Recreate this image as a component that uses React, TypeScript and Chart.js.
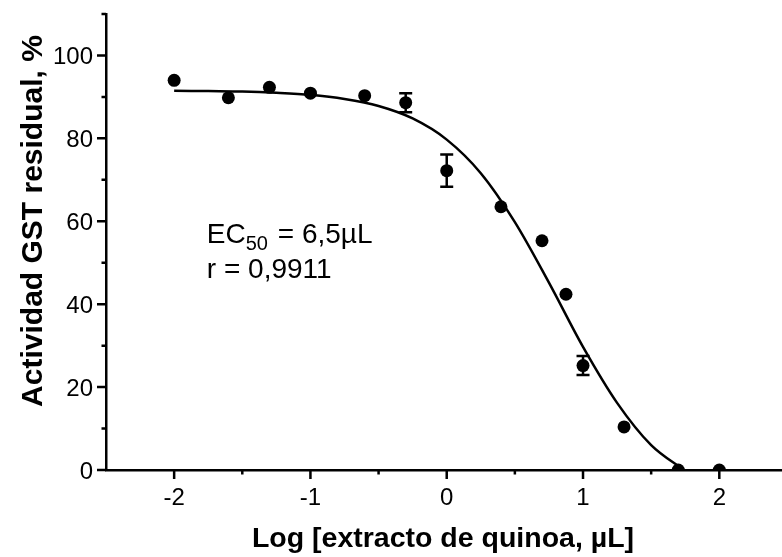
import React, { useEffect, useRef } from 'react';
import { Chart, registerables } from 'chart.js';

Chart.register(...registerables);

// Measured data (log dose vs residual activity)
const logDose = [-2, -1.602, -1.301, -1, -0.602, -0.301, 0, 0.398, 0.699, 0.875, 1, 1.301, 1.699, 2];
const activity = [94.0, 89.8, 92.3, 90.9, 90.3, 88.6, 72.2, 63.5, 55.3, 42.4, 25.2, 10.4, 0, 0];
const activityErr = [0, 0, 0, 0, 0, 2.3, 3.9, 0, 0, 0, 2.3, 0, 0, 0];

// Fitted curve
const fitX = [-2, -1.75, -1.5, -1.25, -1, -0.75, -0.5, -0.25, 0, 0.25, 0.5, 0.75, 1, 1.25, 1.5, 1.74];
const fitY = [91.5, 91.4, 91.3, 91.0, 90.5, 89.5, 87.8, 84.8, 79.7, 71.6, 59.8, 45.2, 29.7, 16.2, 6.0, 0];

// Axes
const xMajorTicks = [-2, -1, 0, 1, 2];
const xMinorTicks = [-1.5, -0.5, 0.5, 1.5];
const yMajorTicks = [0, 20, 40, 60, 80, 100];
const yMinorTicks = [10, 30, 50, 70, 90, 110];

const xTitle = 'Log [extracto de quinoa, \u00b5L]';
const yTitle = 'Actividad GST residual, %';
const annMain = 'EC';
const annSub = '50';
const annRest = ' = 6,5\u00b5L';
const annLine2 = 'r = 0,9911';
const annX = -1.76;
const annY = 54.8;

const FONT = '"Liberation Sans", Arial, sans-serif';

const overlayPlugin = {
  id: 'overlay',
  beforeDatasetsDraw(chart: any) {
    const ctx = chart.ctx;
    const xs = chart.scales.x;
    const ys = chart.scales.y;
    ctx.save();
    ctx.strokeStyle = '#000';
    ctx.lineWidth = 2.5;
    for (let i = 0; i < logDose.length; i++) {
      const e = activityErr[i];
      if (!e) continue;
      const px = xs.getPixelForValue(logDose[i]);
      const pt = ys.getPixelForValue(activity[i] + e);
      const pb = ys.getPixelForValue(activity[i] - e);
      ctx.beginPath();
      ctx.moveTo(px, pt);
      ctx.lineTo(px, pb);
      ctx.moveTo(px - 6.5, pt);
      ctx.lineTo(px + 6.5, pt);
      ctx.moveTo(px - 6.5, pb);
      ctx.lineTo(px + 6.5, pb);
      ctx.stroke();
    }
    ctx.restore();
  },
  afterDraw(chart: any) {
    const ctx = chart.ctx;
    const xs = chart.scales.x;
    const ys = chart.scales.y;
    const area = chart.chartArea;
    ctx.save();
    ctx.strokeStyle = '#000';
    ctx.lineWidth = 2.5;
    ctx.beginPath();
    xMajorTicks.forEach((v) => {
      const p = xs.getPixelForValue(v);
      ctx.moveTo(p, area.bottom);
      ctx.lineTo(p, area.bottom + 9);
    });
    xMinorTicks.forEach((v) => {
      const p = xs.getPixelForValue(v);
      ctx.moveTo(p, area.bottom);
      ctx.lineTo(p, area.bottom + 4.5);
    });
    yMajorTicks.forEach((v) => {
      const p = ys.getPixelForValue(v);
      ctx.moveTo(area.left, p);
      ctx.lineTo(area.left - 9, p);
    });
    yMinorTicks.forEach((v) => {
      const p = ys.getPixelForValue(v);
      ctx.moveTo(area.left, p);
      ctx.lineTo(area.left - 4.5, p);
    });
    ctx.stroke();

    ctx.fillStyle = '#000';
    // tick labels
    ctx.font = `24px ${FONT}`;
    ctx.textBaseline = 'alphabetic';
    ctx.textAlign = 'center';
    xMajorTicks.forEach((v) => {
      ctx.fillText(String(v), xs.getPixelForValue(v), area.bottom + 35);
    });
    ctx.textAlign = 'right';
    yMajorTicks.forEach((v) => {
      ctx.fillText(String(v), area.left - 13, ys.getPixelForValue(v) + 8.6);
    });

    // x title
    ctx.font = `bold 28.5px ${FONT}`;
    ctx.textAlign = 'center';
    ctx.fillText(xTitle, (area.left + area.right) / 2 - 1, 547);

    // y title
    ctx.save();
    ctx.translate(42, 221);
    ctx.rotate(-Math.PI / 2);
    ctx.font = `bold 30px ${FONT}`;
    ctx.textAlign = 'center';
    ctx.fillText(yTitle, 0, 0);
    ctx.restore();

    // annotation
    const ax = xs.getPixelForValue(annX);
    const ay = ys.getPixelForValue(annY);
    ctx.textAlign = 'left';
    ctx.font = `28px ${FONT}`;
    ctx.fillText(annMain, ax, ay);
    let w = ctx.measureText(annMain).width;
    ctx.font = `20px ${FONT}`;
    ctx.fillText(annSub, ax + w, ay + 7);
    w += ctx.measureText(annSub).width;
    ctx.font = `28px ${FONT}`;
    ctx.fillText(annRest, ax + w + 2, ay);
    ctx.fillText(annLine2, ax, ay + 35);
    ctx.restore();
  },
};

export default function App() {
  const ref = useRef<HTMLCanvasElement | null>(null);
  useEffect(() => {
    if (!ref.current) return;
    const chart = new Chart(ref.current, {
      type: 'scatter',
      data: {
        datasets: [
          {
            type: 'scatter',
            data: logDose.map((x, i) => ({ x, y: activity[i] })),
            pointRadius: 6.5,
            pointBackgroundColor: '#000',
            pointBorderWidth: 0,
            borderColor: '#000',
            showLine: false,
          },
          {
            type: 'line',
            data: fitX.map((x, i) => ({ x, y: fitY[i] })),
            borderColor: '#000',
            borderWidth: 2.5,
            pointRadius: 0,
            fill: false,
            cubicInterpolationMode: 'monotone',
          } as any,
        ],
      },
      options: {
        animation: false,
        responsive: true,
        maintainAspectRatio: false,
        layout: { autoPadding: false, padding: { top: 14, left: 0, right: 0, bottom: 0 } },
        plugins: { legend: { display: false }, tooltip: { enabled: false } },
        scales: {
          x: {
            type: 'linear',
            min: -2.5,
            max: 2.46,
            grid: { display: false, drawTicks: false },
            border: { display: true, color: '#000', width: 2.5 },
            afterBuildTicks: (s: any) => {
              s.ticks = xMajorTicks.map((v) => ({ value: v }));
            },
            afterFit: (s: any) => {
              s.height = 87;
            },
            ticks: { display: false },
          },
          y: {
            type: 'linear',
            min: 0,
            max: 110,
            grid: { display: false, drawTicks: false },
            border: { display: true, color: '#000', width: 2.5 },
            afterBuildTicks: (s: any) => {
              s.ticks = yMajorTicks.map((v) => ({ value: v }));
            },
            afterFit: (s: any) => {
              s.width = 106;
            },
            ticks: { display: false },
          },
        },
      },
      plugins: [overlayPlugin],
    });
    return () => chart.destroy();
  }, []);
  return (
    <div style={{ position: 'absolute', left: 0, top: 0, width: 782, height: 557, background: '#fff' }}>
      <canvas ref={ref} />
    </div>
  );
}
